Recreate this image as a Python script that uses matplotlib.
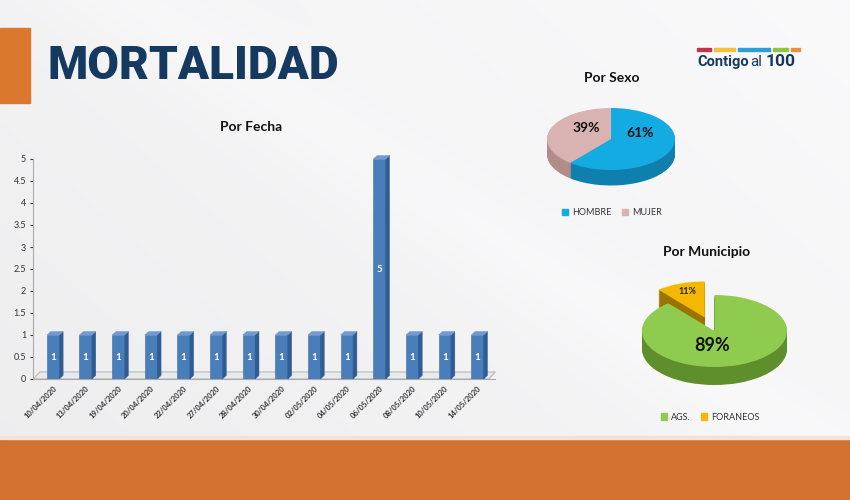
import numpy as np
import matplotlib
matplotlib.use("Agg")
import matplotlib.pyplot as plt
from matplotlib.patches import Polygon, Rectangle, Patch

# ---------------- data ----------------
fechas = ["10/04/2020", "13/04/2020", "19/04/2020", "20/04/2020", "22/04/2020",
          "27/04/2020", "28/04/2020", "30/04/2020", "02/05/2020", "04/05/2020",
          "06/05/2020", "08/05/2020", "10/05/2020", "14/05/2020"]
muertes = [1, 1, 1, 1, 1, 1, 1, 1, 1, 1, 5, 1, 1, 1]

sexo_labels = ["HOMBRE", "MUJER"]
sexo_pct = [61, 39]

mun_labels = ["AGS.", "FORANEOS"]
mun_pct = [89, 11]

W, H = 850, 500
fig = plt.figure(figsize=(8.5, 5), dpi=100)
plt.rcParams['font.family'] = ['Lato', 'DejaVu Sans']

def box(x0, y0, x1, y1):
    return [x0 / W, 1 - y1 / H, (x1 - x0) / W, (y1 - y0) / H]

# ---------------- background ----------------
bg = fig.add_axes([0, 0, 1, 1], zorder=-10)
yy, xx = np.mgrid[0:1:200j, 0:1:340j]
grad = 0.93 + 0.05 * (xx * 0.6 + (1 - yy) * 0.4)
grad = grad + 0.015 * np.exp(-((xx - yy * 0.9 - 0.15) ** 2) / 0.01)
bg.imshow(np.dstack([grad, grad, grad * 1.005]).clip(0, 1), extent=[0, W, H, 0], aspect='auto')
bg.set_xlim(0, W); bg.set_ylim(H, 0); bg.axis('off')
orange = "#d3722e"
bg.add_patch(Rectangle((0, 28), 30, 75, color="#d9782e"))
bg.add_patch(Rectangle((0, 439), W, 61, color=orange))
bg.add_patch(Rectangle((0, 436), W, 3, color="#f3e3d6"))

# title
fig.text(48 / W, 1 - 66 / H, "MORTALIDAD", fontsize=33, fontweight='heavy',
         color="#163a5f", family=['Roboto', 'DejaVu Sans'], va='center', ha='left')

# logo
seg_cols = ["#c0334d", "#f3c13a", "#2a9fd8", "#8dc63f", "#f08a3c"]
seg_x = [(697, 711), (714, 735), (738, 770), (773, 788), (791, 800)]
for c, (a, b) in zip(seg_cols, seg_x):
    bg.add_patch(Rectangle((a, 48), b - a, 2.5, color=c))
fig.text(697 / W, 1 - 62 / H, "Contigo", fontsize=10.5, fontweight='bold',
         color="#163a5f", va='center', ha='left', family=['Roboto', 'DejaVu Sans'])
fig.text(750 / W, 1 - 62 / H, "al", fontsize=11, fontweight='normal',
         color="#163a5f", va='center', ha='left', family=['Roboto', 'DejaVu Sans'])
fig.text(766 / W, 1 - 61.5 / H, "100", fontsize=12.5, fontweight='bold',
         color="#163a5f", va='center', ha='left', family=['Roboto', 'DejaVu Sans'])

# ---------------- bar chart ----------------
ax = fig.add_axes(box(33, 159, 495, 379))
ax.patch.set_alpha(0)
n = len(fechas)
x = np.arange(n)
bw = 0.38
ddx, ddy = 0.12, 0.08
front, side, top = "#4a7ebb", "#2f5d93", "#6f9ad2"
# floor
ax.add_patch(Polygon([(-0.613, 0), (13.35, 0), (13.55, 0.16), (-0.4, 0.16)], closed=True,
                     facecolor="#e9eaec", edgecolor="#b8b8b8", lw=0.8, clip_on=False, zorder=1))
bars = ax.bar(x, muertes, width=bw, color=front, edgecolor="#3d6ca5", lw=0.4, zorder=3)
for b, v in zip(bars, muertes):
    x0 = b.get_x(); x1 = x0 + b.get_width()
    ax.add_patch(Polygon([(x1, 0), (x1 + ddx, ddy), (x1 + ddx, v + ddy), (x1, v)],
                         closed=True, facecolor=side, edgecolor=side, lw=0.3, zorder=3, clip_on=False))
    ax.add_patch(Polygon([(x0, v), (x1, v), (x1 + ddx, v + ddy), (x0 + ddx, v + ddy)],
                         closed=True, facecolor=top, edgecolor=top, lw=0.3, zorder=3, clip_on=False))
    ax.text(x0 + b.get_width() / 2, v / 2, str(v), color="white", fontsize=7,
            fontweight='bold', ha='center', va='center', zorder=4)
ax.set_xlim(-0.613, 13.54)
ax.set_ylim(0, 5)
ax.set_yticks(np.arange(0, 5.01, 0.5))
ax.set_yticklabels(["0", "0.5", "1", "1.5", "2", "2.5", "3", "3.5", "4", "4.5", "5"])
ax.tick_params(axis='y', labelsize=6.5, colors="#333333", length=2, pad=3)
ax.set_xticks(x)
ax.set_xticklabels(fechas, rotation=45, ha='right', va='top', rotation_mode='anchor',
                   fontsize=5.5, fontweight='bold', color="#333333")
ax.tick_params(axis='x', length=0, pad=4, colors="#999999", labelcolor="#333333")
for s in ['top', 'right']:
    ax.spines[s].set_visible(False)
ax.spines['left'].set_color("#aaaaaa")
ax.spines['bottom'].set_color("#aaaaaa")
fig.text(251 / W, 1 - 127 / H, "Por Fecha", fontsize=10, fontweight='bold',
         color="#111111", ha='center', va='center')

# ---------------- pie helper ----------------
def pie3d(axp, vals, cols, darks, startangle, counterclock, explode, depth, nlayers=18):
    for k in range(nlayers, 0, -1):
        off = depth * k / nlayers
        axp.pie(vals, colors=darks, startangle=startangle, counterclock=counterclock,
                explode=explode, center=(0, -off), wedgeprops=dict(lw=0))
    wedges, _ = axp.pie(vals, colors=cols, startangle=startangle, counterclock=counterclock,
                        explode=explode, center=(0, 0), wedgeprops=dict(lw=0))
    axp.set_aspect('auto')
    return wedges

# Por Sexo
axs = fig.add_axes(box(540, 100, 685, 195))
axs.patch.set_alpha(0)
pie3d(axs, sexo_pct, ["#14abe3", "#d9b3b2"], ["#0f7fae", "#b08c8b"], 90, False, None, 0.5)
axs.set_xlim(-(611 - 540) / 64, (685 - 611) / 64)
axs.set_ylim(-(195 - 139) / 31, (139 - 100) / 31)
axs.axis('off')
axs.text(0.45, 0.2, f"{sexo_pct[0]}%", fontsize=10, fontweight='bold', ha='center', va='center', color="#111111")
axs.text(-0.38, 0.35, f"{sexo_pct[1]}%", fontsize=10, fontweight='bold', ha='center', va='center', color="#111111")
fig.text(612 / W, 1 - 78 / H, "Por Sexo", fontsize=10, fontweight='bold',
         color="#111111", ha='center', va='center')
fig.legend([Patch(color="#14abe3"), Patch(color="#d9b3b2")], sexo_labels, ncol=2,
           loc='center', bbox_to_anchor=(612 / W, 1 - 213 / H), frameon=False,
           fontsize=6.5, handlelength=0.7, handleheight=0.7, handletextpad=0.4,
           columnspacing=1.2, labelcolor="#333333")

# Por Municipio
axm = fig.add_axes(box(630, 270, 800, 400))
axm.patch.set_alpha(0)
pie3d(axm, mun_pct, ["#8fcb4e", "#f5b800"], ["#5f8f2c", "#9a7400"], 90, False, [0, 0.4], 0.5)
axm.set_xlim(-(714.5 - 630) / 72.5, (800 - 714.5) / 72.5)
axm.set_ylim(-(400 - 331) / 36, (331 - 270) / 36)
axm.axis('off')
axm.text(-0.03, -0.4, f"{mun_pct[0]}%", fontsize=13, fontweight='bold', ha='center', va='center', color="#111111")
axm.text(-0.37, 1.1, f"{mun_pct[1]}%", fontsize=6.5, fontweight='bold', ha='center', va='center', color="#222222")
fig.text(707 / W, 1 - 252 / H, "Por Municipio", fontsize=10, fontweight='bold',
         color="#111111", ha='center', va='center')
fig.legend([Patch(color="#8fcb4e"), Patch(color="#f5b800")], mun_labels, ncol=2,
           loc='center', bbox_to_anchor=(710 / W, 1 - 417 / H), frameon=False,
           fontsize=6.5, handlelength=0.7, handleheight=0.7, handletextpad=0.4,
           columnspacing=1.2, labelcolor="#333333")

fig.savefig("out.png", dpi=100)
